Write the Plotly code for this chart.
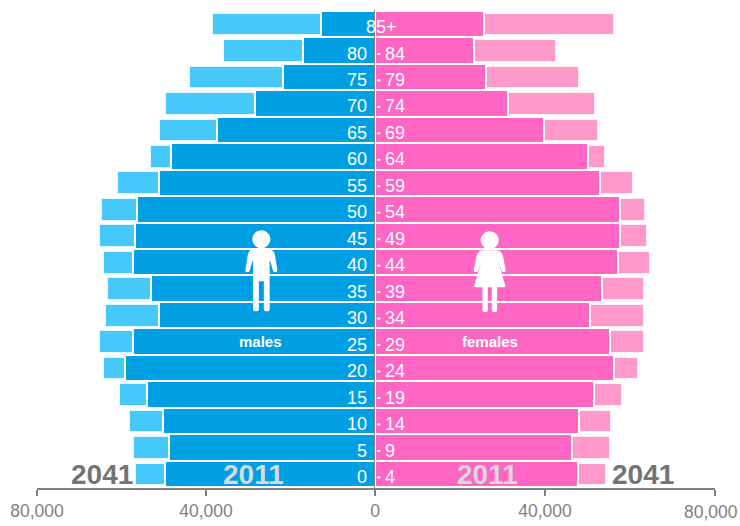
import plotly.graph_objects as go

age_low = ["0", "5", "10", "15", "20", "25", "30", "35", "40", "45", "50", "55", "60", "65", "70", "75", "80"]
age_high = ["4", "9", "14", "19", "24", "29", "34", "39", "44", "49", "54", "59", "64", "69", "74", "79", "84"]
age_top = "85+"

males_2011 = [49700, 48700, 50100, 53900, 59100, 57200, 51100, 53000, 57200, 56800, 56300, 51100, 48200, 37400, 28400, 21700, 17000, 12700]
males_2041 = [56800, 57200, 58200, 60600, 64300, 65300, 63900, 63400, 64300, 65300, 64800, 61000, 53200, 51100, 49700, 44000, 35900, 38500]
females_2011 = [47700, 46300, 48000, 51500, 56200, 55300, 50600, 53400, 57100, 57600, 57600, 52900, 50100, 39700, 31300, 26100, 23300, 25600]
females_2041 = [54300, 55300, 55500, 58100, 61800, 63300, 63300, 63300, 64700, 64000, 63500, 60700, 54100, 52400, 51700, 48000, 42600, 56200]

x_ticks_left = [-80000, -40000, 0]
x_labels_left = ["80,000", "40,000", "0"]
x_ticks_right = [40000, 80000]
x_labels_right = ["40,000", ""]
x_last_value = 80000
x_last_label = "80,000"

BLUE, LIGHT_BLUE = "#009fe3", "#47c8fa"
PINK, LIGHT_PINK = "#ff66c4", "#ff99cc"
GREY = "#808080"
FONT = "Liberation Sans"
W, H = 740, 526
rows = list(range(len(males_2011)))

fig = go.Figure()


def bar(values, sign, axis, color, width, line):
    fig.add_trace(go.Bar(
        y=rows, x=[sign * v for v in values], orientation="h", xaxis=axis, yaxis="y",
        width=width, marker=dict(color=color, line=dict(color=line, width=2)),
        showlegend=False, hoverinfo="skip"))


bar(males_2041, -1, "x", LIGHT_BLUE, 0.86, "rgba(255,255,255,0.85)")
bar(males_2011, -1, "x", BLUE, 1.0, "white")
bar(females_2041, 1, "x2", LIGHT_PINK, 0.86, "rgba(255,255,255,0.85)")
bar(females_2011, 1, "x2", PINK, 1.0, "white")

annotations = []
for i, (lo, hi) in enumerate(zip(age_low, age_high)):
    annotations.append(dict(xref="x", yref="y", x=0, y=i, text=lo, showarrow=False, xanchor="right",
                            xshift=-6, yshift=-3, font=dict(family=FONT, size=18, color="white")))
    annotations.append(dict(xref="x2", yref="y", x=0, y=i, text=hi, showarrow=False, xanchor="left",
                            xshift=8, yshift=-3, font=dict(family=FONT, size=18, color="white")))
annotations.append(dict(xref="x2", yref="y", x=0, y=rows[-1], text=age_top, showarrow=False, xanchor="center",
                        xshift=6, yshift=-3, font=dict(family=FONT, size=18, color="white")))


def big(text, xref, shift, anchor, color):
    annotations.append(dict(xref=xref, yref="y", x=0, y=0, text=f"<b>{text}</b>", showarrow=False, xanchor=anchor,
                            xshift=shift, yshift=-1, font=dict(family=FONT, size=28, color=color)))


big("2041", "x", -240, "right", "#737373")
big("2011", "x", -122, "center", "#d9d9d9")
big("2011", "x2", 112, "center", "#d9d9d9")
big("2041", "x2", 235, "left", "#737373")

for text, xref, shift in [("males", "x", -115), ("females", "x2", 115)]:
    annotations.append(dict(xref=xref, yref="y", x=0, y=5, text=f"<b>{text}</b>", showarrow=False,
                            xshift=shift, font=dict(family=FONT, size=15, color="white")))

annotations.append(dict(xref="x2", yref="paper", x=x_last_value, y=0, yanchor="top", yshift=-12, xshift=-4,
                        text=x_last_label, showarrow=False, font=dict(family=FONT, size=17.5, color=GREY)))


def circle(cx, cy, r):
    k = 0.5523 * r
    return (f"M{cx-r},{cy} C{cx-r},{cy+k} {cx-k},{cy+r} {cx},{cy+r} C{cx+k},{cy+r} {cx+r},{cy+k} {cx+r},{cy} "
            f"C{cx+r},{cy-k} {cx+k},{cy-r} {cx},{cy-r} C{cx-k},{cy-r} {cx-r},{cy-k} {cx-r},{cy} Z ")


male_icon = circle(0, 36, 9) + (
    "M-8,26 L8,26 Q13,26 14,18 L16,5 Q16.5,3 14,3 Q12,3 11.5,5 L9,14 L8.3,14 L8.3,-34 Q8.3,-36 5.5,-36 "
    "Q2.5,-36 2.5,-34 L2.5,-6 L-2.5,-6 L-2.5,-34 Q-2.5,-36 -5.5,-36 Q-8.3,-36 -8.3,-34 L-8.3,14 L-9,14 "
    "L-11.5,5 Q-12,3 -14,3 Q-16.5,3 -16,5 L-14,18 Q-13,26 -8,26 Z")
female_icon = circle(0, 35, 9) + (
    "M-7,25 L7,25 Q12,25 13.5,18 L16,5 Q16.5,3 14,3 Q12,3 11.5,5 L8,15 L15.5,-10 Q16.5,-12 14,-12 L7.3,-12 "
    "L7.3,-35 Q7.3,-37 4.7,-37 Q2,-37 2,-35 L2,-12 L-2,-12 L-2,-35 Q-2,-37 -4.7,-37 Q-7.3,-37 -7.3,-35 "
    "L-7.3,-12 L-14,-12 Q-16.5,-12 -15.5,-10 L-8,15 L-11.5,5 Q-12,3 -14,3 Q-16.5,3 -16,5 L-13.5,18 Q-12,25 -7,25 Z")

shapes = [
    dict(type="path", path=male_icon, xref="x", yref="y", xsizemode="pixel", ysizemode="pixel",
         xanchor=-26900, yanchor=7.51, fillcolor="white", line=dict(width=0), layer="above"),
    dict(type="path", path=female_icon, xref="x2", yref="y", xsizemode="pixel", ysizemode="pixel",
         xanchor=27000, yanchor=7.51, fillcolor="white", line=dict(width=0), layer="above"),
]
for r in rows[:-1]:
    shapes.append(dict(type="line", xref="x2", yref="y", xsizemode="pixel", xanchor=0, x0=2, x1=5.5,
                       y0=r - 0.13, y1=r - 0.13, line=dict(color="white", width=2), layer="above"))

axis_common = dict(showgrid=False, zeroline=False, showline=True, linecolor=GREY, linewidth=2,
                   ticks="outside", ticklen=6, tickcolor=GREY, tickwidth=2, automargin=False,
                   tickfont=dict(family=FONT, size=17.5, color=GREY), anchor="y", fixedrange=True)

fig.update_layout(
    width=W, height=H, margin=dict(l=0, r=0, t=10, b=38, autoexpand=False),
    paper_bgcolor="white", plot_bgcolor="white", barmode="overlay", bargap=0,
    font=dict(family=FONT),
    xaxis=dict(domain=[37 / W, 375 / W], range=[-80000, 0], tickvals=x_ticks_left, ticktext=x_labels_left, **axis_common),
    xaxis2=dict(domain=[375 / W, 715 / W], range=[0, 80000], tickvals=x_ticks_right, ticktext=x_labels_right, **axis_common),
    yaxis=dict(range=[-0.53, 17.53], anchor="free", position=375 / W, side="right", showgrid=False, zeroline=False,
               showline=True, linecolor=GREY, linewidth=2, layer="above traces", showticklabels=False,
               ticks="", fixedrange=True),
    annotations=annotations, shapes=shapes,
)
fig.write_html("out.html", config=dict(displayModeBar=False),
               post_script="document.body.style.margin='0';document.documentElement.style.overflow='hidden';")
